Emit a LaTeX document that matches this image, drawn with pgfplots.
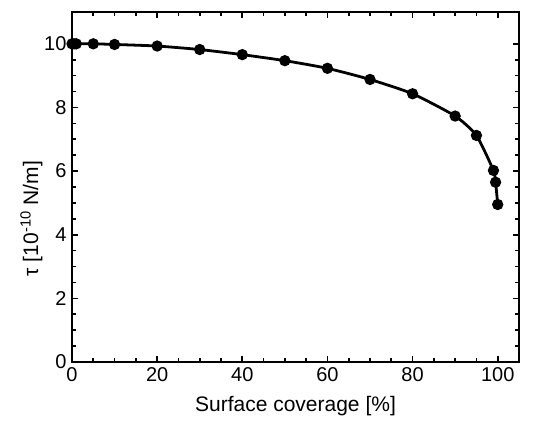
\documentclass[border=0pt]{standalone}
\usepackage{fontspec}
\setmainfont{Liberation Sans}
\usepackage{pgfplots}
\pgfplotsset{compat=1.18}
\begin{document}
\begin{tikzpicture}
\begin{axis}[
  scale only axis,
  width=447bp, height=350bp,
  xmin=0, xmax=105, ymin=0, ymax=11,
  xtick={0,20,40,60,80,100}, ytick={0,2,4,6,8,10},
  minor x tick num=3, minor y tick num=3,
  tick align=inside,
  major tick length=6bp, minor tick length=4bp,
  tick style={line width=1.6pt, black},
  axis line style={line width=2pt},
  xticklabel pos=left, yticklabel pos=left,
  xtick pos=both, ytick pos=both,
  /pgf/number format/assume math mode=true,
  tick label style={font=\fontsize{20bp}{22bp}\selectfont},
  label style={font=\fontsize{21bp}{24bp}\selectfont},
  xlabel={Surface coverage [\%]},
  ylabel={τ [10\textsuperscript{-10} N/m]},
  xticklabel style={yshift=-2bp},
  yticklabel style={xshift=-2bp},
  xlabel style={yshift=-8bp},
  ylabel style={at={(ticklabel cs:0.41)}, yshift=-5bp},
]
\addplot[black, line width=2.8pt, smooth, tension=0.35, mark=*, mark size=4.2pt,
  mark options={solid}] coordinates {
(0,10.0) (0.5,10.0) (1,10.0) (5,10.0) (10,9.98) (20,9.93) (30,9.82)
(40,9.66) (50,9.47) (60,9.23) (70,8.88) (80,8.43) (90,7.73) (95,7.12)
(99,6.02) (99.5,5.65) (100,4.95)
};
\end{axis}
\pgfresetboundingbox
\useasboundingbox ([xshift=-72bp,yshift=-65bp]current axis.south west) rectangle ([xshift=27bp,yshift=12bp]current axis.north east);
\end{tikzpicture}
\end{document}
